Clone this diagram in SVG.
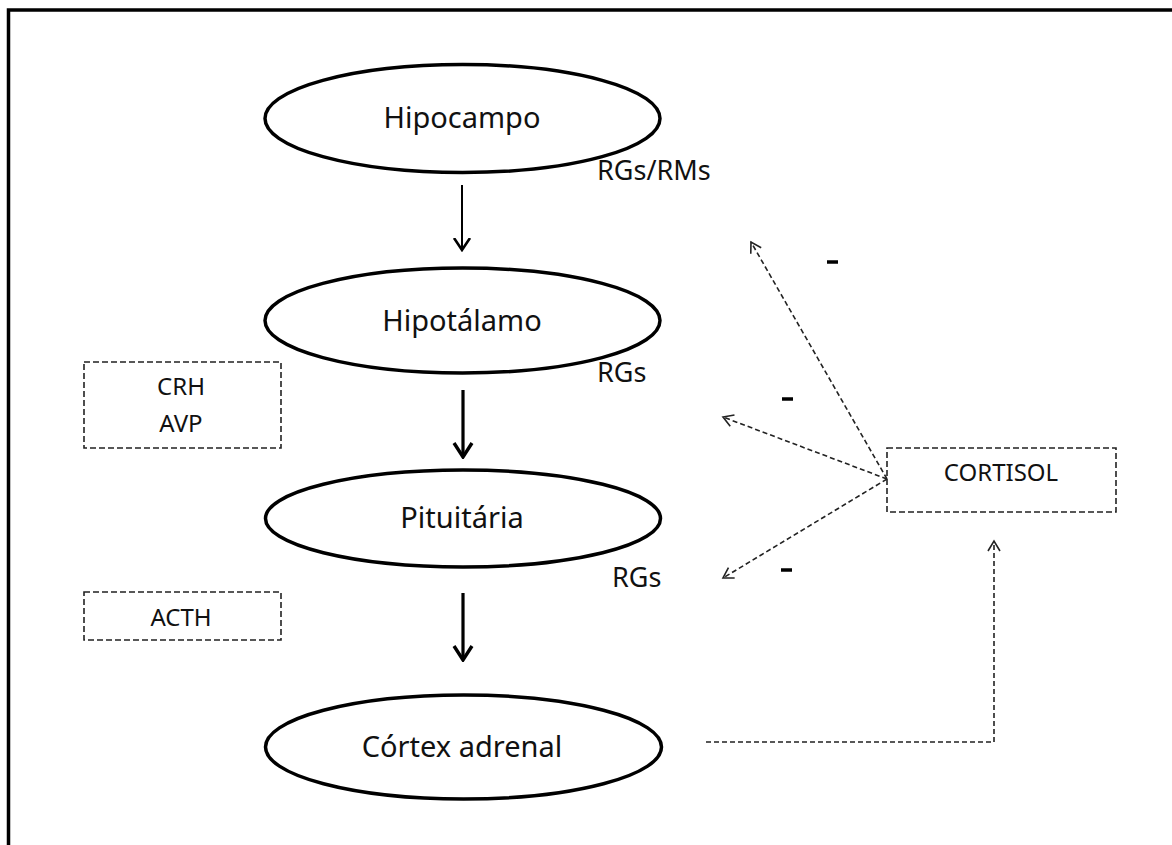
<svg xmlns="http://www.w3.org/2000/svg" width="1172" height="845" viewBox="0 0 1172 845">
<style>
.node{fill:#fff;stroke:#000;stroke-width:3.5}
.box{fill:none;stroke:#222;stroke-width:1.6;stroke-dasharray:6 3}
.t{font-family:"Noto Sans","Open Sans",sans-serif;fill:#111;text-anchor:middle}
.big{font-size:29px}
.lab{font-size:27px;text-anchor:start}
.sm{font-size:24px}
.solid{stroke:#000;fill:none}
.dash{stroke:#222;stroke-width:1.6;fill:none;stroke-dasharray:5 3}
.minus{stroke:#000;stroke-width:3.5}
</style>
<defs>
<marker id="hs" viewBox="-12 -10 14 20" markerWidth="14" markerHeight="20" refX="0" refY="0" orient="auto" markerUnits="userSpaceOnUse">
<path d="M-12,-8 L0,0 L-12,8" fill="none" stroke="#000" stroke-width="2.6"/>
</marker>
<marker id="hb" viewBox="-16 -11 18 22" markerWidth="18" markerHeight="22" refX="0" refY="0" orient="auto" markerUnits="userSpaceOnUse">
<path d="M-14,-9 L0,0 L-14,9" fill="none" stroke="#000" stroke-width="3.4"/>
</marker>
<marker id="hd" viewBox="-12 -8 14 16" markerWidth="14" markerHeight="16" refX="0" refY="0" orient="auto" markerUnits="userSpaceOnUse">
<path d="M-10,-6 L0,0 L-10,6" fill="none" stroke="#222" stroke-width="1.6"/>
</marker>
</defs>
<rect width="1172" height="845" fill="#fff"/>
<path d="M8.5,845 L8.5,10 L1172,10" fill="none" stroke="#000" stroke-width="3.5"/>

<g id="hipocampo">
<ellipse class="node" cx="462.5" cy="118.5" rx="197.5" ry="54"/>
<text class="t big" x="462" y="128">Hipocampo</text>
</g>
<g id="hipotalamo">
<ellipse class="node" cx="462.5" cy="320.5" rx="197.5" ry="52.5"/>
<text class="t big" x="462" y="331">Hipotálamo</text>
</g>
<g id="pituitaria">
<ellipse class="node" cx="463" cy="518.5" rx="197.5" ry="48.5"/>
<text class="t big" x="462" y="528">Pituitária</text>
</g>
<g id="cortex">
<ellipse class="node" cx="463.5" cy="747" rx="198" ry="52"/>
<text class="t big" x="462" y="757">Córtex adrenal</text>
</g>
<g id="crh-avp">
<rect class="box" x="84" y="362" width="197" height="86"/>
<text class="t sm" x="181" y="395">CRH</text>
<text class="t sm" x="181" y="432">AVP</text>
</g>
<g id="acth">
<rect class="box" x="84" y="592" width="197" height="48"/>
<text class="t sm" x="181" y="626">ACTH</text>
</g>
<g id="cortisol">
<rect class="box" x="887" y="448" width="229" height="64"/>
<text class="t sm" x="1001" y="481">CORTISOL</text>
</g>
<g id="labels">
<text class="t lab" x="597" y="180">RGs/RMs</text>
<text class="t lab" x="597" y="382">RGs</text>
<text class="t lab" x="612" y="587">RGs</text>
<line class="minus" x1="827" y1="262" x2="838" y2="262"/>
<line class="minus" x1="782" y1="399" x2="793" y2="399"/>
<line class="minus" x1="781" y1="570" x2="792" y2="570"/>
</g>
<g id="connectors">
<line class="solid" stroke-width="2" x1="462" y1="185" x2="462" y2="250" marker-end="url(#hs)"/>
<line class="solid" stroke-width="3.2" x1="463" y1="390" x2="463" y2="457" marker-end="url(#hb)"/>
<line class="solid" stroke-width="3.2" x1="463" y1="593" x2="463" y2="660" marker-end="url(#hb)"/>
<line class="dash" x1="887" y1="479" x2="751" y2="242" marker-end="url(#hd)"/>
<line class="dash" x1="887" y1="479" x2="723" y2="417" marker-end="url(#hd)"/>
<line class="dash" x1="887" y1="479" x2="723" y2="578" marker-end="url(#hd)"/>
<polyline class="dash" points="706,742 994,742 994,541" marker-end="url(#hd)"/>
</g>
</svg>
